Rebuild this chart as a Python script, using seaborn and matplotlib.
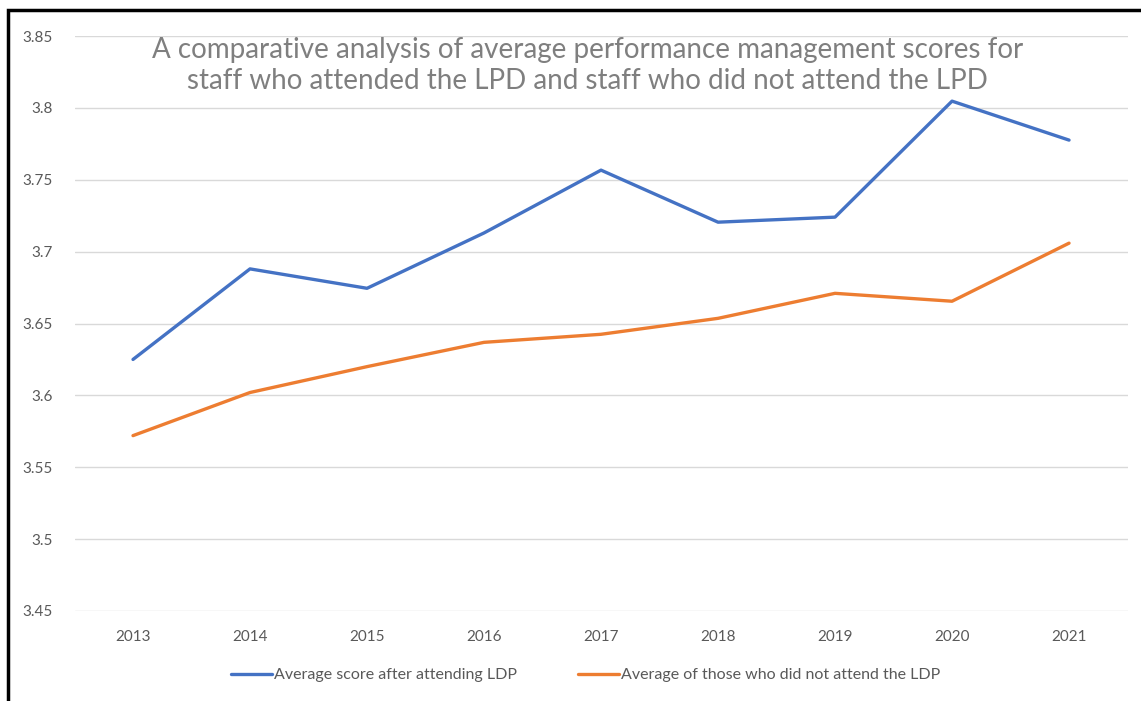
import matplotlib
matplotlib.use("Agg")
import matplotlib.pyplot as plt
import seaborn as sns
import pandas as pd
from matplotlib.patches import Rectangle

years = [2013, 2014, 2015, 2016, 2017, 2018, 2019, 2020, 2021]
attended = [3.625, 3.688, 3.6745, 3.713, 3.7567, 3.7205, 3.724, 3.8047, 3.7776]
not_attended = [3.572, 3.602, 3.620, 3.6369, 3.6425, 3.6536, 3.671, 3.6655, 3.7059]
series_names = ["Average score after attending LDP", "Average of those who did not attend the LDP"]
y_ticks = [3.45, 3.5, 3.55, 3.6, 3.65, 3.7, 3.75, 3.8, 3.85]
y_labels = ["3.45", "3.5", "3.55", "3.6", "3.65", "3.7", "3.75", "3.8", "3.85"]
title = "A comparative analysis of average performance management scores for\nstaff who attended the LPD and staff who did not attend the LPD"

df = pd.DataFrame({
    "year": years * 2,
    "score": attended + not_attended,
    "series": [series_names[0]] * len(years) + [series_names[1]] * len(years),
})

sns.set_theme(style="white")
plt.rcParams["font.family"] = ["Lato", "DejaVu Sans"]

fig = plt.figure(figsize=(11.41, 7.01), dpi=100)
ax = fig.add_axes([0.0653, 0.1284, 0.9229, 0.8202])

sns.lineplot(data=df, x="year", y="score", hue="series",
             palette=["#4472C4", "#ED7D31"], linewidth=2.4, ax=ax, legend=True)

ax.set_xlim(2012.5, 2021.5)
ax.set_ylim(3.45, 3.85)
ax.set_xticks(years)
ax.set_xticklabels([str(y) for y in years])
ax.set_yticks(y_ticks)
ax.set_yticklabels(y_labels)
ax.tick_params(axis="both", length=0, labelsize=11, labelcolor="#595959")
ax.tick_params(axis="x", pad=14)
ax.tick_params(axis="y", pad=16)
ax.grid(axis="y", color="#d9d9d9", linewidth=1)
ax.grid(axis="x", visible=False)
for s in ax.spines.values():
    s.set_visible(False)
ax.set_xlabel("")
ax.set_ylabel("")

handles, labels = ax.get_legend_handles_labels()
ax.get_legend().remove()
fig.legend(handles, labels, loc="center", bbox_to_anchor=(0.513, 0.037), ncol=2,
           frameon=False, fontsize=11.5, labelcolor="#595959",
           handlelength=2.6, handletextpad=0.1, columnspacing=3.8)

fig.text(0.515, 0.907, title, ha="center", va="center", fontsize=20,
         color="#7f7f7f", linespacing=1.25)

fig.patches.append(Rectangle((0.007, -0.1), 1.2, 0.0857 + 1.0, transform=fig.transFigure,
                             fill=False, edgecolor="black", linewidth=2.5, zorder=10))

fig.savefig("out.png", dpi=100)
